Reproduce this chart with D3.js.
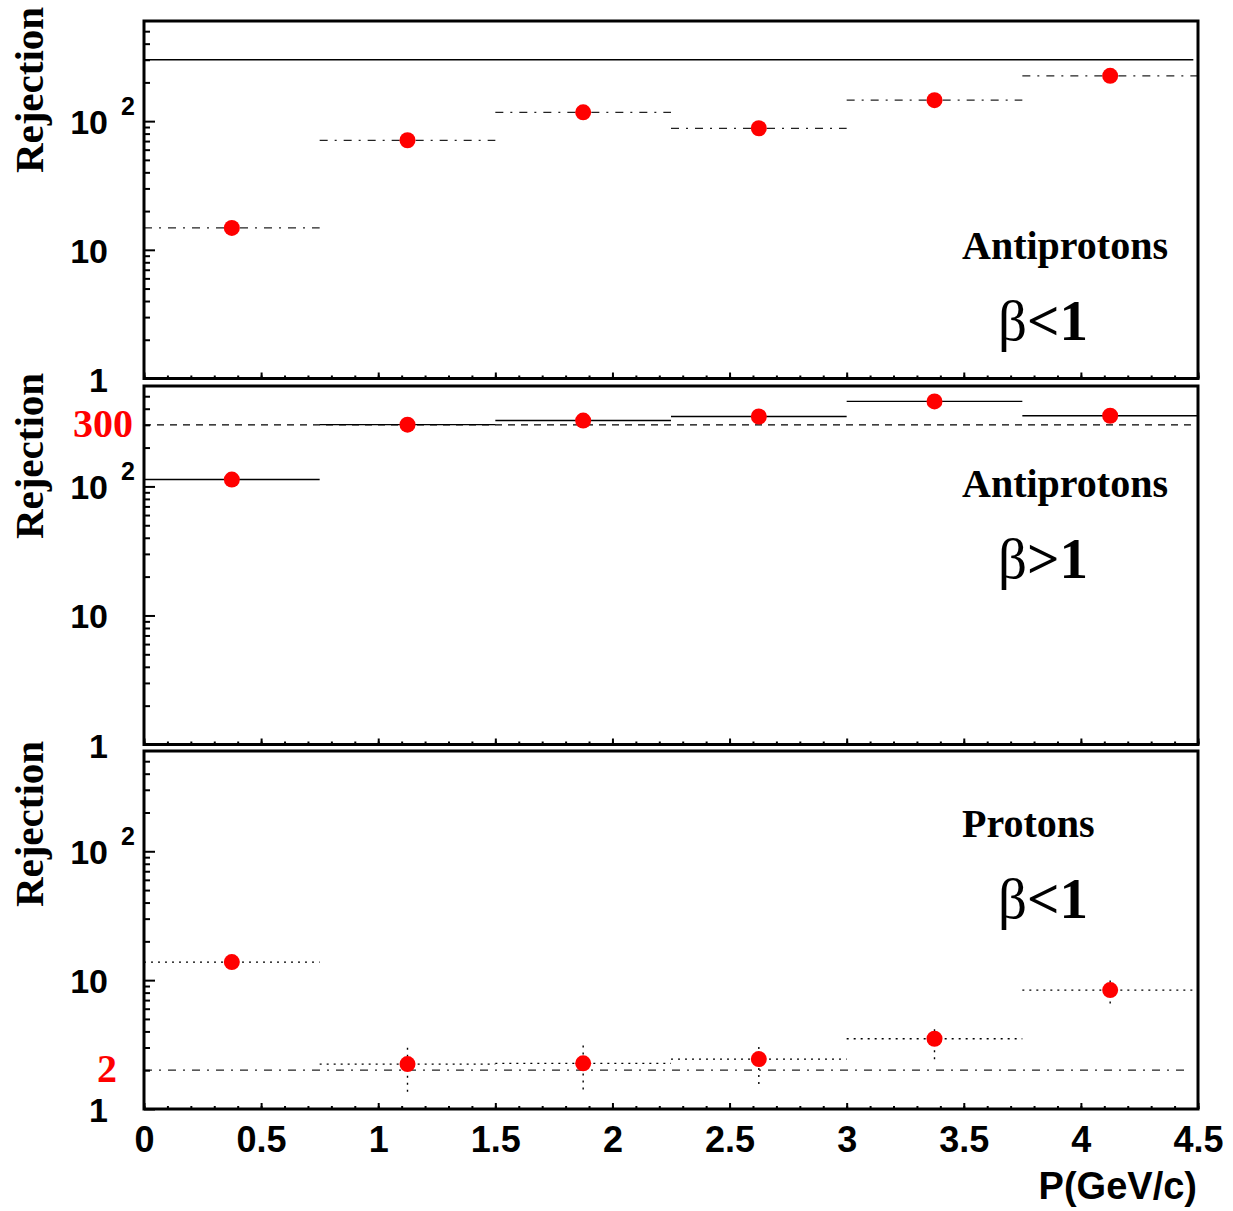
<!DOCTYPE html>
<html><head><meta charset="utf-8">
<script src="https://cdn.jsdelivr.net/npm/d3@7"></script>
<style>body{margin:0;background:#fff}</style>
</head><body>
<svg id="c" width="1233" height="1211"></svg>
<script>
// ---- data ----
const binEdges = [0, 0.75, 1.5, 2.25, 3, 3.75, 4.5];
const momentum = [0.375, 1.125, 1.875, 2.625, 3.375, 4.125];
const rejAntiBetaLow = [14.8, 71, 117, 88, 145.6, 225];
const rejAntiBetaHigh = [113, 301, 324, 348, 456, 353];
const rejProtonBetaLow = [13.8, 2.23, 2.26, 2.44, 3.51, 8.37];
const protonErrLow = [13.8, 1.36, 1.42, 1.56, 2.43, 6.6];
const protonErrHigh = [13.8, 3.04, 3.13, 3.31, 4.35, 10.0];
const referenceLevels = [300, 300, 2];
const panelTitles = ["Antiprotons", "Antiprotons", "Protons"];
const betaSigns = ["<", ">", "<"];
const xTickValues = [0, 0.5, 1, 1.5, 2, 2.5, 3, 3.5, 4, 4.5];
const xMinorTicks = d3.range(0, 4.5001, 0.1).map(v => +v.toFixed(2));
const yMajorTicks = [1, 10, 100];
const yMinorTicks = [2,3,4,5,6,7,8,9,20,30,40,50,60,70,80,90,200,300,400,500];
const yTickLabels = ["1", "10", "10"];
const yTickSup = ["", "", "2"];
const refLabels = ["", "300", "2"];
const xTitle = "P(GeV/c)";
const yTitle = "Rejection";

// ---- layout ----
const svg = d3.select("#c");
const X0 = 144, X1 = 1198;
const x = d3.scaleLinear().domain([0, 4.5]).range([X0, X1]);
const serif = "'Liberation Serif','Times New Roman',serif";
const sans = "'Liberation Sans',Arial,Helvetica,sans-serif";
const styles = {
  solid: {dash: null, w: 1.4, c: "#000"},
  dashed: {dash: "7,6", w: 1.3, c: "#000"},
  dashdot: {dash: "8,7,2,7", w: 1.3, c: "#222"},
  dotted: {dash: "2,5", w: 1.4, c: "#000"}
};
const panels = [
  {top: 21, bottom: 378.5, vals: rejAntiBetaLow, lo: null, hi: null, bin: "dashdot", ref: "solid",
   titleY: 259, betaY: 340, rejY: 90, refEnd: 4.48},
  {top: 386, bottom: 744.5, vals: rejAntiBetaHigh, lo: null, hi: null, bin: "solid", ref: "dashed",
   titleY: 497, betaY: 578, rejY: 456, refEnd: 4.47},
  {top: 751, bottom: 1109, vals: rejProtonBetaLow, lo: protonErrLow, hi: protonErrHigh, bin: "dotted", ref: "dashdot",
   titleY: 837, betaY: 918, rejY: 824, refEnd: 4.47}
];

function applyStyle(sel, s) {
  sel.attr("stroke", s.c).attr("stroke-width", s.w).attr("fill", "none");
  if (s.dash) sel.attr("stroke-dasharray", s.dash);
}

panels.forEach((p, i) => {
  const y = d3.scaleLog().domain([1, 600]).range([p.bottom, p.top]);
  const g = svg.append("g");

  // reference line
  applyStyle(g.append("line")
    .attr("x1", x(0)).attr("x2", x(p.refEnd))
    .attr("y1", y(referenceLevels[i])).attr("y2", y(referenceLevels[i])), styles[p.ref]);

  // bin lines
  momentum.forEach((m, k) => {
    applyStyle(g.append("line")
      .attr("x1", x(binEdges[k])).attr("x2", x(binEdges[k + 1]))
      .attr("y1", y(p.vals[k])).attr("y2", y(p.vals[k])), styles[p.bin]);
    if (p.lo && p.lo[k] !== p.hi[k]) {
      applyStyle(g.append("line")
        .attr("x1", x(m)).attr("x2", x(m))
        .attr("y1", y(p.lo[k])).attr("y2", y(p.hi[k])), styles.dotted);
    }
  });

  // markers
  g.selectAll("circle.pt").data(momentum).join("circle")
    .attr("class", "pt")
    .attr("cx", d => x(d)).attr("cy", (d, k) => y(p.vals[k]))
    .attr("r", 8).attr("fill", "#ff0000");

  // axes ticks
  const ax = g.append("g").attr("transform", `translate(${X0},0)`)
    .call(d3.axisLeft(y).tickValues(yMajorTicks).tickSize(-11).tickFormat(""));
  const axm = g.append("g").attr("transform", `translate(${X0},0)`)
    .call(d3.axisLeft(y).tickValues(yMinorTicks).tickSize(-6).tickFormat(""));
  const bx = g.append("g").attr("transform", `translate(0,${p.bottom})`)
    .call(d3.axisBottom(x).tickValues(xTickValues).tickSize(-6)
      .tickPadding(17).tickFormat(i === 2 ? (d => String(d)) : ""));
  const bxm = g.append("g").attr("transform", `translate(0,${p.bottom})`)
    .call(d3.axisBottom(x).tickValues(xMinorTicks).tickSize(-3).tickFormat(""));
  [ax, axm, bx, bxm].forEach(a => {
    a.select(".domain").remove();
    a.selectAll(".tick line").attr("stroke", "#000").attr("stroke-width", 2);
  });
  bx.selectAll(".tick text")
    .attr("font-family", sans).attr("font-weight", "bold")
    .attr("font-size", 36).attr("fill", "#000");

  // y tick labels
  yMajorTicks.forEach((t, k) => {
    g.append("text").attr("x", 108).attr("y", y(t) + 13)
      .attr("text-anchor", "end").attr("font-family", sans).attr("font-weight", "bold")
      .attr("font-size", 34).text(yTickLabels[k]);
    if (yTickSup[k]) {
      g.append("text").attr("x", 121).attr("y", y(t) - 6)
        .attr("font-family", sans).attr("font-weight", "bold")
        .attr("font-size", 25).text(yTickSup[k]);
    }
  });

  // red reference labels
  if (refLabels[i]) {
    g.append("text").attr("x", i === 1 ? 133 : 117).attr("y", y(referenceLevels[i]) + 12)
      .attr("text-anchor", "end").attr("font-family", serif).attr("font-weight", "bold")
      .attr("font-size", 40).attr("fill", "#ff0000").text(refLabels[i]);
  }

  // frame
  g.append("rect").attr("x", X0).attr("y", p.top)
    .attr("width", X1 - X0).attr("height", p.bottom - p.top)
    .attr("fill", "none").attr("stroke", "#000").attr("stroke-width", 3);

  // y title
  g.append("text").attr("transform", `translate(43,${p.rejY}) rotate(-90)`)
    .attr("text-anchor", "middle").attr("font-family", serif).attr("font-weight", "bold")
    .attr("font-size", 41).text(yTitle);

  // panel labels
  g.append("text").attr("x", 962).attr("y", p.titleY)
    .attr("font-family", serif).attr("font-weight", "bold").attr("font-size", 40)
    .text(panelTitles[i]);
  const bt = g.append("text").attr("x", 998).attr("y", p.betaY)
    .attr("font-family", serif).attr("font-size", 57);
  bt.append("tspan").attr("font-weight", "normal").text("β");
  bt.append("tspan").attr("font-weight", "bold").text(betaSigns[i] + "1");
});

// x title
svg.append("text").attr("x", 1197).attr("y", 1199)
  .attr("text-anchor", "end").attr("font-family", sans).attr("font-weight", "bold")
  .attr("font-size", 38).text(xTitle);
</script>
</body></html>
